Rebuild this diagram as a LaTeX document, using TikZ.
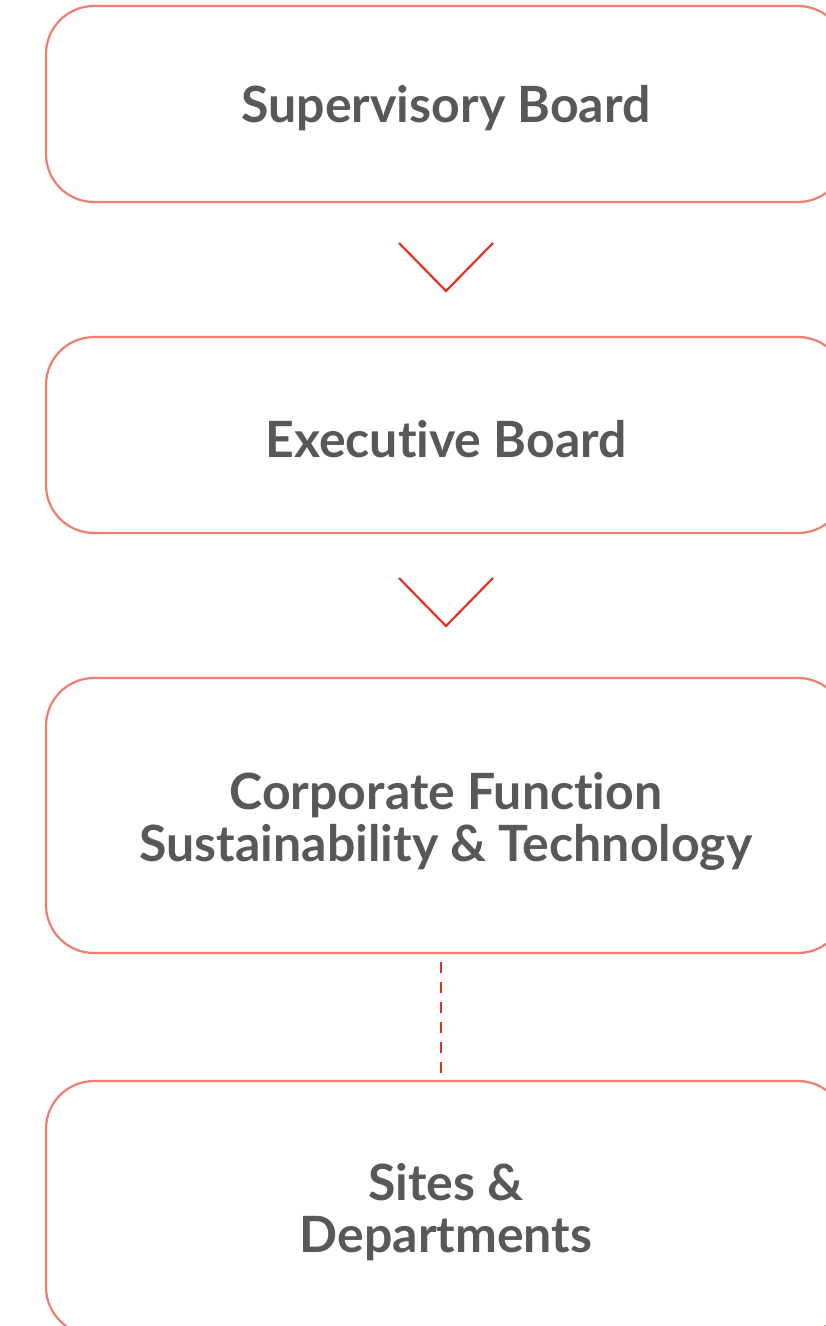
\documentclass[tikz,border=0pt]{standalone}
\usepackage{fontspec}
\setmainfont{Lato}[Ligatures={NoCommon,NoRare}, Contextuals=NoAlternate]
\definecolor{boxline}{HTML}{F07E6E}
\definecolor{arrowred}{HTML}{E3321F}
\definecolor{txtgray}{HTML}{58585A}
\begin{document}
\begin{tikzpicture}[x=1pt,y=1pt,
  orgbox/.style={draw=boxline, line width=2.2pt, rounded corners=48pt, fill=white},
  lbl/.style={text=txtgray, font=\fontsize{50}{52}\selectfont\bfseries, align=center},
  chev/.style={draw=arrowred, line width=2.2pt},
  dashedlink/.style={draw=arrowred, line width=2.8pt, dash pattern=on 11pt off 9pt}]
\useasboundingbox (0,0) rectangle (826,-1326);
\begin{scope}
\clip (0,0) rectangle (826,-1326);
\draw[orgbox] (46,-6) rectangle (846,-202);
\draw[orgbox] (46,-337) rectangle (846,-533);
\draw[orgbox] (46,-678) rectangle (846,-953);
\draw[orgbox] (46,-1081) rectangle (846,-1335);
\end{scope}
\node[lbl] (sb) at (446,-108) {Supervisory Board};
\node[lbl] (eb) at (446,-439) {Executive Board};
\node[lbl] (cf) at (446,-821) {Corporate Function\\Sustainability \& Technology};
\node[lbl] (sd) at (446,-1212) {Sites \&\\Departments};
\coordinate (c1a) at (399,-243);
\coordinate (c1b) at (446,-291);
\coordinate (c1c) at (493,-243);
\draw[chev] (c1a) -- (c1b) -- (c1c);
\coordinate (c2a) at (399,-578);
\coordinate (c2b) at (446,-626);
\coordinate (c2c) at (493,-578);
\draw[chev] (c2a) -- (c2b) -- (c2c);
\coordinate (d1) at (441,-962);
\coordinate (d2) at (441,-1078);
\draw[dashedlink] (d1) -- (d2);
\end{tikzpicture}
\end{document}
